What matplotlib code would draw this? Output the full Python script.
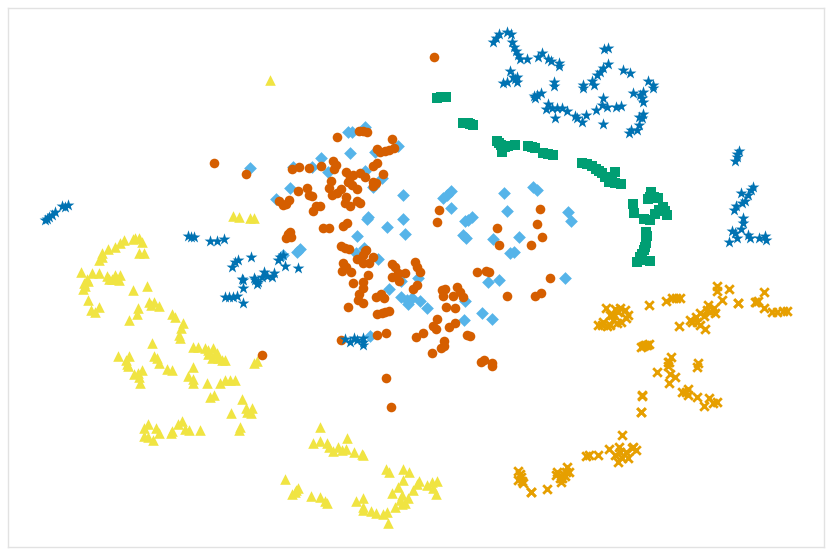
import matplotlib
matplotlib.use('Agg')
import matplotlib.pyplot as plt

# t-SNE style embedding
star_x = [45,47,49,52,55,62,65,68,188,191,194,210,217,224,251,238,235,232,243,243,225,229,233,237,243,255,257,262,264,267,272,274,278,280,283,285,298,242,254,258,
          354,350,345,357,363,363,363,
          493,496,499,507,511,512,514,516,518,520,527,538,542,548,551,559,559,510,503,507,513,517,517,515,554,554,535,537,541,534,
          546,548,552,557,562,567,555,575,577,586,582,596,602,603,607,616,621,603,583,583,592,594,597,600,603,608,604,608,623,630,
          648,653,653,633,643,640,642,643,643,639,642,639,637,631,629,
          739,737,737,735,753,751,748,741,745,742,736,734,743,743,741,732,735,737,729,748,750,759,765,766]
star_y = [220,219,217,215,212,206,207,205,236,237,237,241,241,239,257,260,262,267,280,288,297,297,297,296,303,280,284,277,272,276,277,273,260,257,255,266,268,279,278,282,
          338,342,339,340,342,338,345,
          42,38,34,32,34,42,47,51,55,59,59,57,53,59,61,63,66,71,83,82,77,77,82,79,82,86,98,95,93,96,
          109,104,108,108,108,111,118,116,118,115,122,110,105,98,107,107,106,124,85,88,81,85,75,72,68,64,49,48,70,73,
          81,85,88,93,92,95,98,102,114,117,118,125,130,130,133,
          151,154,157,161,187,190,195,193,201,203,206,210,218,223,229,231,233,238,242,235,238,238,236,240]

square_x = [437,441,446,463,468,470,473,497,501,502,508,515,528,535,543,553,582,587,596,602,615,609,615,621,
            633,634,651,648,658,663,667,655,650,644,647,646,644,640,637,650,
            499,505,532,548,592,599,605,612,650,654,661,665,659,646,646,645,642,642]
square_y = [98,97,97,123,123,124,125,141,145,152,146,145,146,148,153,155,163,164,169,173,172,182,183,184,
            204,213,192,199,198,207,215,214,220,219,236,243,250,257,262,261,
            143,147,147,154,166,171,177,180,197,197,211,211,210,240,232,247,254,260]

diamond_x = [348,352,365,350,321,293,312,328,365,375,398,382,373,290,276,403,368,367,403,387,405,357,300,297,364,250,283,
             463,466,493,519,514,510,356,378,401,418,389,401,407,408,412,420,427,465,464,482,492,488,499,565,370,
             451,447,443,451,504,533,537,507,472,468,465,568,571]
diamond_y = [132,132,127,153,158,167,167,172,171,152,146,178,187,188,199,195,217,219,219,227,234,236,249,252,248,168,255,
             235,238,239,237,252,253,253,259,281,278,289,297,300,304,298,301,308,301,320,313,319,282,280,278,336,
             191,195,198,208,193,187,190,211,217,220,221,212,221]

circle_x = [337,359,363,367,392,377,380,385,389,394,292,299,309,321,333,336,334,377,373,383,346,350,353,360,365,348,352,357,331,329,341,337,332,373,376,373,
            298,307,309,312,346,345,350,357,360,279,283,286,289,320,316,313,323,329,343,347,290,291,286,288,341,345,349,366,
            343,346,342,351,365,363,357,363,369,373,368,363,353,363,359,358,363,348,
            392,395,405,398,392,399,415,417,420,417,413,376,381,384,377,382,389,385,
            445,442,443,457,453,460,463,446,455,437,433,436,449,455,423,416,444,444,441,432,467,470,481,484,492,492,
            477,486,489,507,550,535,541,499,531,542,341,377,386,386,391,434,439,437,540,537,497,214,246,262]
circle_y = [137,131,131,132,139,149,152,151,150,148,169,167,168,166,161,165,169,163,166,174,172,177,175,173,177,182,185,189,181,188,189,193,195,182,183,186,
            191,188,195,196,197,203,206,201,203,201,205,204,200,206,206,211,228,228,226,223,232,237,238,234,246,248,249,250,
            263,267,271,272,251,255,259,263,263,257,275,282,283,288,294,300,303,307,
            264,267,273,273,277,281,262,267,272,285,289,297,294,298,314,313,311,312,
            289,290,296,287,296,292,297,307,308,319,326,329,327,323,333,337,341,346,348,353,335,336,362,360,363,366,
            272,271,272,296,278,296,293,245,245,237,340,335,333,378,407,57,210,222,209,224,228,163,174,355]

triangle_x = [270,233,239,250,254,124,120,115,108,102,102,99,133,139,142,139,144,81,92,99,107,109,115,114,120,119,88,84,83,88,91,95,99,
              147,133,138,137,129,151,154,159,172,175,183,181,179,180,152,193,198,205,208,213,217,212,218,225,222,257,254,
              118,129,126,127,154,157,159,167,172,193,188,193,193,207,142,138,134,139,140,220,225,230,235,214,210,242,231,246,252,247,251,240,239,
              148,144,144,148,153,156,159,172,171,178,182,185,189,200,
              320,313,320,327,329,338,346,347,354,362,363,285,298,295,292,311,320,325,327,
              386,389,403,409,403,419,417,413,398,392,402,408,402,395,356,363,363,363,371,376,383,387,388,427,432,437,433,436,
              85,87,112,117,135,149,208,215,128,296,333,342,400,405]
triangle_y = [80,216,217,218,218,240,243,247,249,253,257,260,239,238,242,253,253,272,273,273,276,279,275,279,275,280,281,283,289,300,310,312,307,
              286,290,308,314,320,305,302,306,314,317,323,328,335,338,343,347,347,348,350,348,353,358,358,360,360,361,363,
              356,356,360,364,356,358,363,369,370,367,376,379,383,383,370,373,374,377,383,383,380,380,380,395,397,399,413,408,408,412,413,427,430,
              424,428,436,437,440,428,433,431,433,424,421,429,430,430,
              427,443,441,443,447,447,449,438,452,454,455,479,488,492,494,496,497,501,503,
              469,472,469,472,480,481,484,490,487,493,495,498,504,507,501,498,507,510,511,513,514,512,523,485,482,481,488,494,
              286,279,279,279,238,302,354,354,366,490,451,450,500,503]

cross_x = [606,610,615,620,625,628,603,598,607,613,617,621,612,649,666,672,676,680,717,717,729,722,738,755,758,764,764,772,777,783,787,
           708,707,715,710,700,696,697,690,700,705,679,643,647,641,649,671,668,668,657,698,697,670,675,669,
           682,688,688,697,704,709,713,717,642,641,622,586,589,598,609,615,619,622,628,620,633,636,632,
           518,521,522,523,518,531,547,557,556,562,561,567,569,565,
           602,610,618,626,714,704,692,738,756,645,669,686,642,641,618,626,531,520,560,566,563]
cross_y = [308,315,309,308,310,315,322,325,326,320,323,322,315,305,301,298,298,298,286,291,289,300,303,302,301,292,308,312,312,311,311,
           305,310,313,312,313,317,322,320,325,329,326,346,345,347,344,357,362,366,372,363,367,374,377,383,
           392,389,395,397,406,398,403,402,395,412,435,456,455,455,449,455,447,458,458,452,447,450,448,
           471,477,481,483,480,492,489,472,475,478,482,467,472,476,
           325,325,312,318,308,316,322,303,302,345,362,392,396,412,462,452,492,474,478,472,474]

fig = plt.figure(figsize=(8.31, 5.55), dpi=100)
ax = fig.add_axes([8/831, 8/555, 816/831, 539/555])

ax.scatter(triangle_x, triangle_y, marker='^', s=58, color='#f0e442', linewidths=0)
ax.scatter(cross_x, cross_y, marker='x', s=38, color='#e69f00', linewidths=2)
ax.scatter(square_x, square_y, marker='s', s=46, color='#009e73', linewidths=0)
ax.scatter(diamond_x, diamond_y, marker='D', s=42, color='#56b4e9', linewidths=0)
ax.scatter(circle_x, circle_y, marker='o', s=48, color='#d55e00', linewidths=0)
ax.scatter(star_x, star_y, marker='*', s=80, color='#0072b2', linewidths=0)

ax.set_xlim(8, 824)
ax.set_ylim(547, 8)
ax.set_xticks([])
ax.set_yticks([])
for side in ax.spines.values():
    side.set_color('#e2e2e2')
    side.set_linewidth(1)

fig.savefig('out.png', dpi=100)
